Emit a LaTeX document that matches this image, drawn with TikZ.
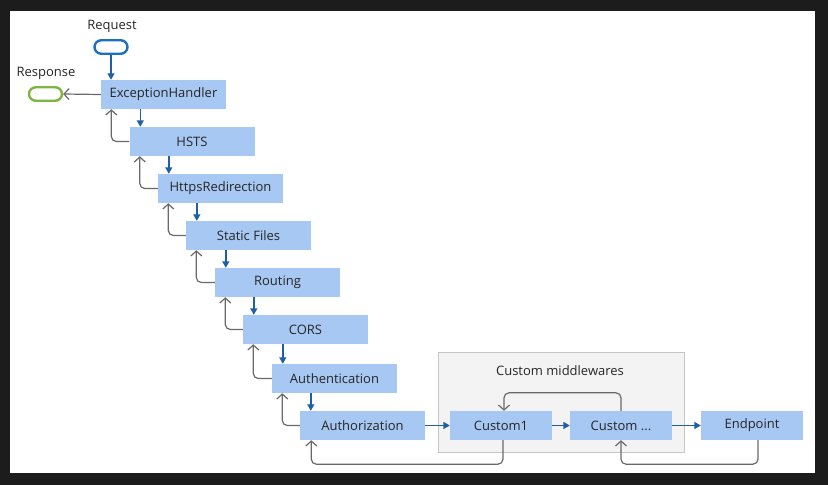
\documentclass[tikz,border=0pt]{standalone}
\usepackage{fontspec}
\setmainfont{Open Sans}
\usetikzlibrary{arrows.meta,positioning}
\definecolor{boxfill}{HTML}{A8C8F4}
\definecolor{fwd}{HTML}{1F5FA6}
\definecolor{ret}{HTML}{6A6A6A}
\definecolor{txt}{HTML}{262626}
\definecolor{reqc}{HTML}{1E6FBF}
\definecolor{resc}{HTML}{7DB540}
\definecolor{frame}{HTML}{1C1C1C}
\definecolor{grpfill}{HTML}{F3F3F3}
\definecolor{grpline}{HTML}{C6C6C6}
\tikzset{
  mw/.style={fill=boxfill, draw=none, minimum height=29pt, inner sep=0pt, text=txt,
    font=\fontsize{13}{15}\selectfont},
  wide/.style={mw, minimum width=125pt},
  narrow/.style={mw, minimum width=102pt},
  fwdarrow/.style={draw=fwd, line width=1.4pt, -{Triangle[length=6.5pt,width=7pt]}},
  retarrow/.style={draw=ret, line width=1.2pt, rounded corners=5pt, -{Straight Barb[length=5pt,width=11pt]}},
  term/.style={minimum width=33pt, minimum height=13.5pt, rounded corners=6.75pt, line width=2.4pt, inner sep=0pt},
  lbl/.style={text=txt, font=\fontsize{13}{15}\selectfont, inner sep=0pt}
}
\begin{document}
\begin{tikzpicture}[x=1pt,y=-1pt]
\fill[frame] (0,0) rectangle (828,485);
\fill[white] (10,11) rectangle (815,473);
\useasboundingbox (0,0) rectangle (828,485);

% group
\node[draw=grpline, fill=grpfill, line width=1pt, minimum width=246pt, minimum height=100pt, inner sep=0pt] (grp) at (561,402) {};
\node[lbl] (grptitle) at (560,371) {Custom middlewares};

% terminals
\node[term, draw=reqc] (req) at (111,47) {};
\node[lbl] (reqlbl) at (112,26) {Request};
\node[term, draw=resc] (res) at (45.5,94) {};
\node[lbl] (reslbl) at (46,73) {Response};

% pipeline
\node[wide] (eh) at (163.5,94.5) {ExceptionHandler};
\node[wide] (hsts) at (192,141.5) {HSTS};
\node[wide] (hr) at (220.5,188.5) {HttpsRedirection};
\node[wide] (sf) at (248.5,235.5) {Static Files};
\node[wide] (rt) at (277.5,282.5) {Routing};
\node[wide] (cors) at (305.5,329.5) {CORS};
\node[wide] (authn) at (334.5,378.5) {Authentication};
\node[wide] (authz) at (362.5,425.5) {Authorization};
\node[narrow] (c1) at (501,425.5) {Custom1};
\node[narrow] (cn) at (621,425.5) {Custom ...};
\node[narrow] (ep) at (752,425.5) {Endpoint};

% forward arrows
\draw[fwdarrow] (req.south) -- (req.south |- eh.north);
\foreach \a/\b in {eh/hsts, hsts/hr, hr/sf, sf/rt, rt/cors, cors/authn, authn/authz}{
  \draw[fwdarrow] ([xshift=11pt]\b.north west |- \a.south) -- ([xshift=11pt]\b.north west);
}
\draw[fwdarrow] (authz.east) -- (c1.west);
\draw[fwdarrow] (c1.east) -- (cn.west);
\draw[fwdarrow] (cn.east) -- (ep.west);

% return arrows
\draw[retarrow] (eh.west) -- (res.east);
\foreach \a/\b in {eh/hsts, hsts/hr, hr/sf, sf/rt, rt/cors, cors/authn, authn/authz}{
  \draw[retarrow] (\b.west) -| ([xshift=10.5pt]\a.south west);
}
\coordinate (c1b) at ([xshift=2pt]c1.south);
\coordinate (c1t) at ([xshift=3pt]c1.north);
\coordinate (epb) at ([xshift=6pt]ep.south);
\draw[retarrow] (c1b) -- ++(0,24) -| ([xshift=11.5pt]authz.south west);
\draw[retarrow] (epb) -- ++(0,24) -| (cn.south);
\draw[retarrow] (cn.north) -- ++(0,-18) -| (c1t);
\end{tikzpicture}
\end{document}
